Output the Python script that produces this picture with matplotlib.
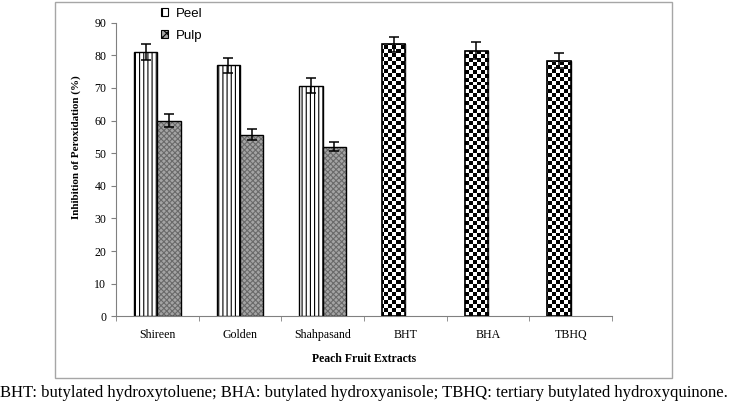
import numpy as np
import matplotlib
matplotlib.use("Agg")
import matplotlib.pyplot as plt
from matplotlib.patches import Rectangle, Patch

categories = ["Shireen", "Golden", "Shahpasand", "BHT", "BHA", "TBHQ"]
peel = [81.0, 76.9, 70.7, 83.4, 81.4, 78.3]
peel_err = [2.4, 2.4, 2.3, 2.3, 2.6, 2.3]
pulp = [60.0, 55.6, 52.0]
pulp_err = [2.0, 1.7, 1.3]
standards = ["BHT", "BHA", "TBHQ"]
yticks = [0, 10, 20, 30, 40, 50, 60, 70, 80, 90]
caption = ("BHT: butylated hydroxytoluene; BHA: butylated hydroxyanisole; "
           "TBHQ: tertiary butylated hydroxyquinone.")

plt.rcParams['hatch.linewidth'] = 0.8
serif = ["Liberation Serif", "DejaVu Serif"]
sans = ["Liberation Sans", "DejaVu Sans"]

W, H = 729, 408
fig = plt.figure(figsize=(W / 100, H / 100), dpi=100)

# outer frame
fig.patches.append(Rectangle((55 / W, 1 - 378 / H), (672 - 55) / W, (377 - 1) / H,
                             transform=fig.transFigure, fill=False,
                             edgecolor="#a6a6a6", lw=1.0))

ax = fig.add_axes([116 / W, 1 - 316.3 / H, (612 - 116) / W, (316.3 - 22.7) / H])

x = np.arange(len(categories))
w = 0.284
gray_edge = "#808080"
pulp_face = "#a4a4a4"
pulp_hatch = "#6a6a6a"

peel_bars = []
for i, (cat, v, e) in enumerate(zip(categories, peel, peel_err)):
    is_std = cat in standards
    b = ax.bar(x[i] - w / 2, v, w, facecolor="white", edgecolor="black",
               lw=1.0, hatch=None if is_std else "||||", zorder=2)
    peel_bars.append((b[0], is_std))
    ax.errorbar(x[i] - w / 2, v, yerr=e, fmt="none", ecolor="black",
                elinewidth=1.1, capsize=3.5, capthick=1.1, zorder=4)

xp = x[:len(pulp)] + w / 2
ax.bar(xp, pulp, w, facecolor=pulp_face, edgecolor=pulp_hatch, lw=0,
       hatch="xxxxxx", zorder=2)
ax.bar(xp, pulp, w, fill=False, edgecolor="black", lw=1.0, zorder=3)
ax.errorbar(xp, pulp, yerr=pulp_err, fmt="none", ecolor="black",
            elinewidth=1.1, capsize=3.5, capthick=1.1, zorder=4)

ax.set_xlim(-0.5, len(categories) - 0.5)
ax.set_ylim(0, 90)

# checkerboard fill for standards
ncol, nrow = 124, 74
checker = (np.add.outer(np.arange(nrow), np.arange(ncol)) % 2).astype(float)
for bar, is_std in peel_bars:
    if is_std:
        im = ax.imshow(checker, cmap="gray", interpolation="nearest",
                       extent=(-0.5, len(categories) - 0.5, 0, 90),
                       aspect="auto", zorder=2.5, origin="lower")
        im.set_clip_path(bar)
        ax.add_patch(Rectangle(bar.get_xy(), bar.get_width(), bar.get_height(),
                               fill=False, edgecolor="black", lw=1.2, zorder=3))
ax.set_xlim(-0.5, len(categories) - 0.5)
ax.set_ylim(0, 90)

for s in ["top", "right"]:
    ax.spines[s].set_visible(False)
for s in ["left", "bottom"]:
    ax.spines[s].set_color(gray_edge)
    ax.spines[s].set_linewidth(0.8)

ax.set_yticks(yticks)
ax.set_yticklabels([str(t) for t in yticks], family=serif, fontsize=8.6)
ax.tick_params(axis="y", length=3.5, color=gray_edge, pad=3.5)
ax.set_xticks(x)
ax.set_xticklabels(categories, family=serif, fontsize=8.6)
ax.tick_params(axis="x", which="major", length=0, pad=9)
ax.set_xticks(np.arange(-0.5, len(categories)), minor=True)
ax.tick_params(axis="x", which="minor", length=3.5, color=gray_edge, direction="out")

ax.set_ylabel("Inhibition of Peroxidation (%)", family=serif, fontsize=8.0,
              fontweight="bold")
ax.yaxis.set_label_coords(-(116 - 81) / (612 - 116), 0.575)
ax.set_xlabel("Peach Fruit Extracts", family=serif, fontsize=8.5,
              fontweight="bold", labelpad=9)

handles = [Patch(facecolor="white", edgecolor="black", hatch="||", lw=0.8, label="Peel"),
           Patch(facecolor=pulp_face, edgecolor="black", hatch="xxxx", lw=0.8, label="Pulp")]
fig.legend(handles=handles, loc="upper left", bbox_to_anchor=(149 / W, 1 + 4 / H),
           frameon=False, prop={"family": sans, "size": 9.5}, handlelength=0.55,
           handleheight=0.55, handletextpad=0.6, labelspacing=0.75)

fig.text(0.5 / W, 1 - 393 / H, caption, family=serif, fontsize=12,
         ha="left", va="center")

fig.savefig("out.png", dpi=100)
